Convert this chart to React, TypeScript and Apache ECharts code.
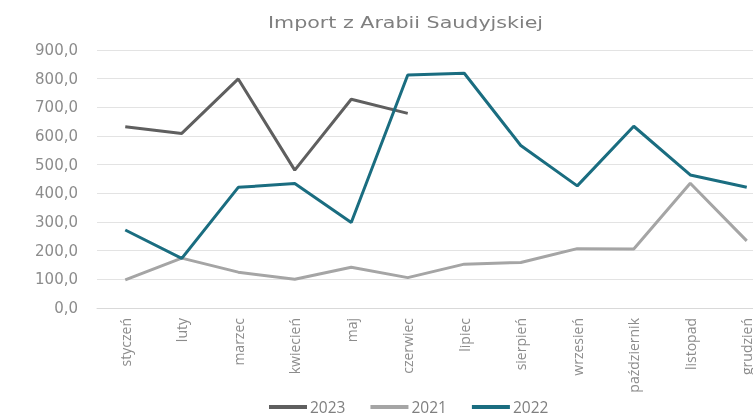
import React, { useEffect, useRef } from "react";
import * as echarts from "echarts";

const months = ["styczeń", "luty", "marzec", "kwiecień", "maj", "czerwiec", "lipiec", "sierpień", "wrzesień", "październik", "listopad", "grudzień"];
const s2023 = [632, 609, 799, 481, 728, 679, null, null, null, null, null, null];
const s2021 = [98, 174, 125, 100, 142, 106, 153, 159, 207, 206, 435, 234];
const s2022 = [272, 173, 421, 434, 298, 813, 819, 567, 426, 634, 464, 421];
const seriesNames = ["2023", "2021", "2022"];
const colors = ["#5f5f5f", "#a5a5a5", "#1a6d80"];
const titleText = "Import z Arabii Saudyjskiej";

export default function App() {
  const ref = useRef<HTMLDivElement>(null);
  useEffect(() => {
    const chart = echarts.init(ref.current!, null, { renderer: "svg" });
    const font = "Open Sans";
    chart.setOption({
      animation: false,
      graphic: [
        {
          type: "text",
          x: 268,
          y: 14,
          scaleX: 1.25,
          style: { text: titleText, fontFamily: "DejaVu Sans", fontSize: 16.5, fill: "#7f7f7f" },
        },
      ],
      legend: {
        bottom: 0,
        left: 264,
        data: seriesNames,
        icon: "rect",
        itemWidth: 38,
        itemHeight: 4,
        itemGap: 25,
        textStyle: { fontFamily: font, fontSize: 15.5, color: "#7f7f7f", padding: [0, 0, 0, -2] },
      },
      grid: { left: 97, top: 50, right: -22, height: 258, containLabel: false, outerBoundsMode: "none" },
      xAxis: {
        type: "category",
        data: months,
        boundaryGap: true,
        axisLine: { lineStyle: { color: "#d9d9d9" } },
        axisTick: { show: false },
        axisLabel: { rotate: 90, margin: 10, fontFamily: font, fontSize: 14, color: "#8c8c8c", interval: 0 },
      },
      yAxis: {
        type: "value",
        min: 0,
        max: 900,
        interval: 100,
        axisLine: { show: false },
        axisTick: { show: false },
        splitLine: { lineStyle: { color: "#e3e3e3", width: 1 } },
        axisLabel: {
          margin: 19,
          fontFamily: "DejaVu Sans",
          fontSize: 15,
          color: "#8c8c8c",
          formatter: (v: number) => v.toFixed(1).replace(".", ","),
        },
      },
      series: [s2023, s2021, s2022].map((d, i) => ({
        name: seriesNames[i],
        type: "line",
        data: d,
        showSymbol: false,
        symbol: "none",
        connectNulls: false,
        lineStyle: { width: 3, color: colors[i] },
        itemStyle: { color: colors[i] },
        z: i === 0 ? 3 : i === 2 ? 4 : 2,
      })),
    });
    return () => chart.dispose();
  }, []);
  return <div ref={ref} style={{ position: "fixed", left: 0, top: 0, width: 753, height: 420 }} />;
}
